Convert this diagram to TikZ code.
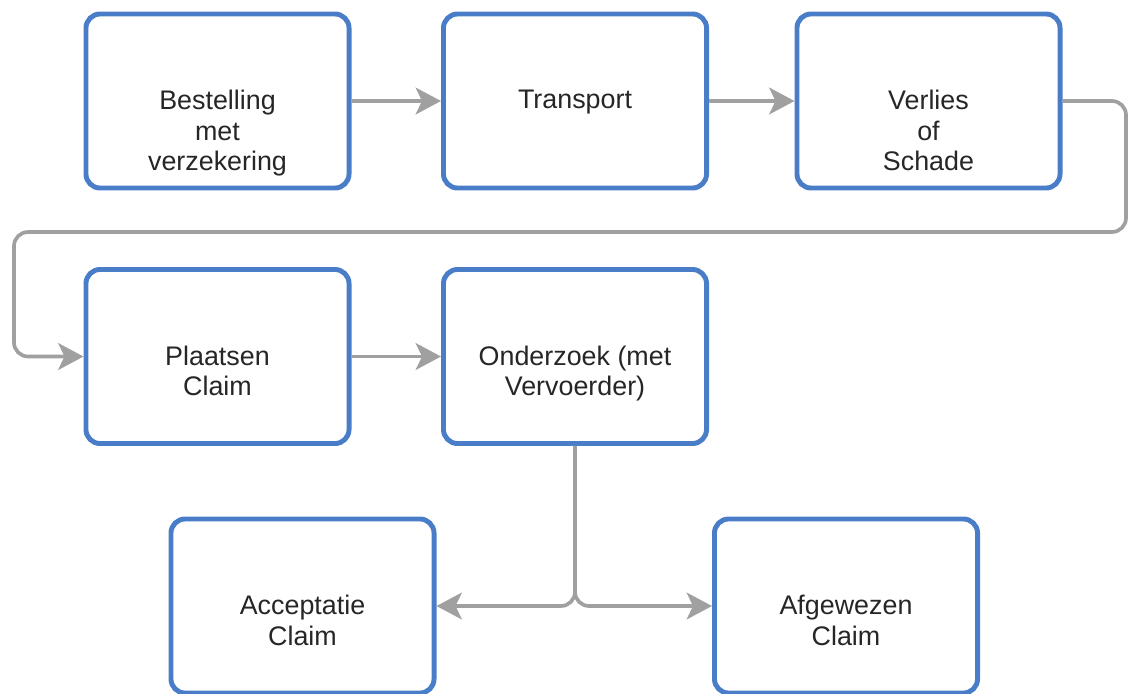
\documentclass[tikz,border=0pt]{standalone}
\usepackage{fontspec}
\setmainfont{Liberation Sans}
\usetikzlibrary{arrows.meta,positioning,calc}

\definecolor{boxblue}{RGB}{74,125,200}
\definecolor{pijlgrey}{RGB}{160,160,160}

\tikzset{
  stap/.style={draw=boxblue, line width=3.5pt, rounded corners=10pt, fill=white,
    minimum width=6.575cm, minimum height=4.35cm},
  tekst/.style={align=center, inner sep=0pt, anchor=north,
    font=\fontsize{19.1}{21.8}\selectfont, text=black!85},
  pijl/.style={draw=pijlgrey, line width=2.6pt, rounded corners=10pt,
    -{Stealth[length=18pt,width=19pt,inset=4.5pt]}}
}

\begin{document}
\begin{tikzpicture}[x=0.025cm, y=-0.025cm]

\useasboundingbox (0,0) rectangle (1128,693);

% boxes
\node[stap] (best)   at (217.5,101) {};
\node[stap] (trans)  at (575,101) {};
\node[stap] (verl)   at (928.5,101) {};
\node[stap] (plaats) at (217.5,356.5) {};
\node[stap] (onderz) at (575,356.5) {};
\node[stap] (accept) at (302.5,606) {};
\node[stap] (afgew)  at (846,606) {};

% texts
\node[tekst] (best-t)   at ([yshift=8pt]best.center)   {Bestelling\\met\\verzekering};
\node[tekst] (trans-t)  at ([yshift=8pt]trans.center)  {Transport};
\node[tekst] (verl-t)   at ([yshift=8pt]verl.center)   {Verlies\\of\\Schade};
\node[tekst] (plaats-t) at ([yshift=8pt]plaats.center) {Plaatsen\\Claim};
\node[tekst] (onderz-t) at ([yshift=8pt]onderz.center) {Onderzoek (met\\Vervoerder)};
\node[tekst] (accept-t) at ([yshift=8pt]accept.center) {Acceptatie\\Claim};
\node[tekst] (afgew-t)  at ([yshift=8pt]afgew.center)  {Afgewezen\\Claim};

% connectors
\draw[pijl] (best.east) -- (trans.west);
\draw[pijl] (trans.east) -- (verl.west);
\draw[pijl] (verl.east) -| (1126,232) -| (14,356.5) -- (plaats.west);
\draw[pijl] (plaats.east) -- (onderz.west);

\draw[pijl] (onderz.south) |- (accept.east);
\draw[pijl] (onderz.south) |- (afgew.west);

\end{tikzpicture}
\end{document}
